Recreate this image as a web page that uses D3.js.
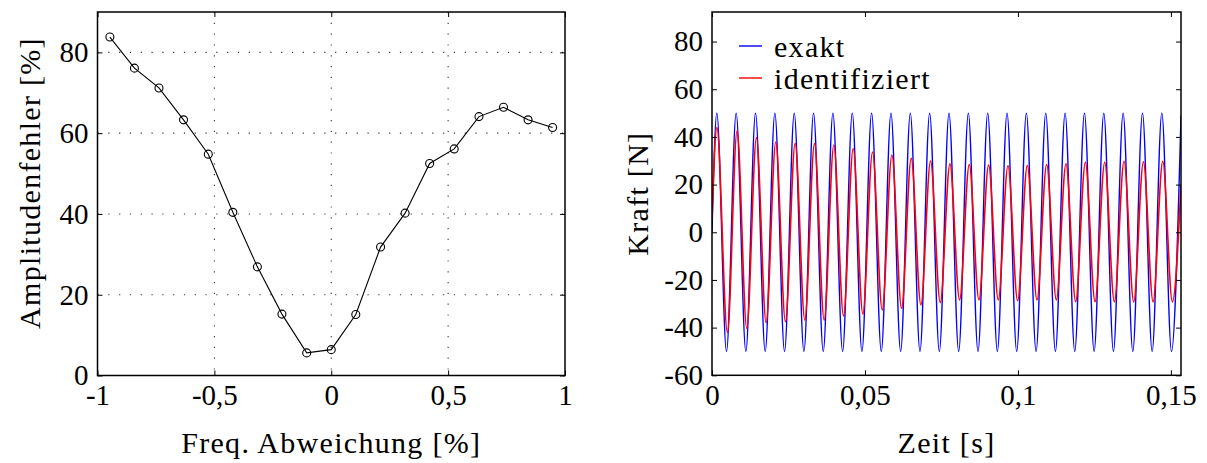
<!DOCTYPE html>
<html>
<head>
<meta charset="utf-8">
<script src="https://cdn.jsdelivr.net/npm/d3@7"></script>
<style>
  body { margin: 0; background: #fff; }
  svg text { font-family: 'Liberation Serif', 'DejaVu Serif', 'Times New Roman', Times, serif; fill: #000; }
</style>
</head>
<body>
<div id="grafica"></div>
<script>
// ---- datos: grafica izquierda (Amplitudenfehler) ----
const abweichung = [-0.947, -0.842, -0.737, -0.632, -0.526, -0.421, -0.316, -0.211, -0.105, 0,
                    0.105, 0.211, 0.316, 0.421, 0.526, 0.632, 0.737, 0.842, 0.947]
const fehler = [83.8, 76.1, 71.2, 63.3, 54.8, 40.4, 26.9, 15.2, 5.6, 6.4,
                15.1, 31.8, 40.2, 52.5, 56.1, 64.1, 66.4, 63.3, 61.4]
const xTicksIzq = [-1, -0.5, 0, 0.5, 1]
const yTicksIzq = [0, 20, 40, 60, 80]

// ---- datos: grafica derecha (Kraft), extremos ----
const exaktT = [0, 0.00158, 0.00474, 0.00790, 0.01107, 0.01423, 0.01739, 0.02055, 0.02371, 0.02688, 0.03004,
                0.03320, 0.03636, 0.03952, 0.04269, 0.04585, 0.04901, 0.05217, 0.05533, 0.05850, 0.06166,
                0.06482, 0.06798, 0.07114, 0.07431, 0.07747, 0.08063, 0.08379, 0.08695, 0.09012, 0.09328,
                0.09644, 0.09960, 0.10276, 0.10593, 0.10909, 0.11225, 0.11541, 0.11857, 0.12174, 0.12490,
                0.12806, 0.13122, 0.13438, 0.13755, 0.14071, 0.14387, 0.14703, 0.15019, 0.1533]
const exaktF = [0, 50, -50, 50, -50, 50, -50, 50, -50, 50, -50,
                50, -50, 50, -50, 50, -50, 50, -50, 50, -50,
                50, -50, 50, -50, 50, -50, 50, -50, 50, -50,
                50, -50, 50, -50, 50, -50, 50, -50, 50, -50,
                50, -50, 50, -50, 50, -50, 50, -50, 49]
const identT = [0, 0.00160, 0.00504, 0.00820, 0.01137, 0.01453, 0.01769, 0.02085, 0.02401, 0.02718, 0.03034,
                0.03350, 0.03666, 0.03982, 0.04299, 0.04615, 0.04931, 0.05247, 0.05563, 0.05880, 0.06196,
                0.06512, 0.06828, 0.07144, 0.07461, 0.07777, 0.08093, 0.08409, 0.08725, 0.09042, 0.09358,
                0.09674, 0.09990, 0.10306, 0.10623, 0.10939, 0.11255, 0.11571, 0.11887, 0.12204, 0.12520,
                0.12836, 0.13152, 0.13468, 0.13785, 0.14101, 0.14417, 0.14733, 0.15049, 0.1533]
const identF = [5.8, 43.9, -42.0, 42.6, -40.3, 39.7, -37.9, 37.8, -37.5, 37.3, -36.8,
                37.2, -36.8, 36.6, -35.1, 35.1, -34.3, 33.7, -32.6, 32.4, -31.9,
                31.0, -30.5, 29.9, -29.5, 28.7, -28.4, 28.4, -28.4, 28.2, -28.4,
                27.9, -28.7, 28.0, -28.4, 28.4, -28.4, 28.7, -29.1, 29.4, -29.1,
                29.4, -29.2, 29.8, -29.2, 29.6, -29.2, 29.8, -29.2, 19.8]
const xTicksDer = [0, 0.05, 0.1, 0.15]
const yTicksDer = [-60, -40, -20, 0, 20, 40, 60, 80]
const leyenda = ['exakt', 'identifiziert']
const colores = ['#0000ff', '#ff0000']

const ancho_total = 1207
const alto_total = 463
const fontSize = 29      // numeros de los ejes
const fontTitulo = 30    // titulos y leyenda
const espaciado = '1.3px'
const fuente = "'Liberation Serif', 'DejaVu Serif', 'Times New Roman', Times, serif"

const coma = (d) => String(d).replace('.', ',')

svg = d3.select('#grafica')
        .append('svg')
        .attr('width', ancho_total)
        .attr('height', alto_total)
        .attr('font-family', fuente)

// marco de cada grafica
izq = { left: 97.5, right: 565, top: 12, bottom: 375.5 }
der = { left: 712, right: 1181, top: 12, bottom: 375.3 }

function ejes(g, x, y, xTicks, yTicks, m) {
  const w = m.right - m.left
  const h = m.bottom - m.top
  g.append('g')
    .attr('transform', `translate(0, ${h})`)
    .call(d3.axisBottom(x).tickValues(xTicks).tickFormat(coma).tickSizeInner(-5).tickSizeOuter(0).tickPadding(9))
  g.append('g')
    .call(d3.axisLeft(y).tickValues(yTicks).tickFormat(coma).tickSizeInner(-5).tickSizeOuter(0).tickPadding(9))
  g.append('g')
    .call(d3.axisTop(x).tickValues(xTicks).tickFormat('').tickSizeInner(-5).tickSizeOuter(0))
  g.append('g')
    .attr('transform', `translate(${w}, 0)`)
    .call(d3.axisRight(y).tickValues(yTicks).tickFormat('').tickSizeInner(-5).tickSizeOuter(0))
  g.selectAll('.domain').remove()
  g.selectAll('g').attr('font-family', fuente)
  g.selectAll('.tick line').attr('stroke', '#000').attr('stroke-width', 1)
  g.selectAll('.tick text')
    .attr('font-size', fontSize + 'px')
    .attr('fill', '#000')
  g.append('rect')
    .attr('width', w)
    .attr('height', h)
    .attr('fill', 'none')
    .attr('stroke', '#000')
    .attr('stroke-width', 1.5)
}

function titulo(x, y, rot, txt) {
  svg.append('text')
    .attr('transform', `translate(${x}, ${y}) rotate(${rot})`)
    .attr('text-anchor', 'middle')
    .attr('font-size', fontTitulo + 'px')
    .attr('letter-spacing', espaciado)
    .text(txt)
}

// ---------------- grafica izquierda ----------------
gI = svg.append('g').attr('transform', `translate(${izq.left}, ${izq.top})`)
anchoI = izq.right - izq.left
altoI = izq.bottom - izq.top

xI = d3.scaleLinear().domain([-1, 1]).range([0, anchoI])
yI = d3.scaleLinear().domain([0, 90]).range([altoI, 0])

// rejilla punteada
gI.selectAll('.gridx')
  .data(xTicksIzq.slice(1, -1))
  .enter()
  .append('line')
  .attr('x1', (d) => xI(d)).attr('x2', (d) => xI(d))
  .attr('y1', 0).attr('y2', altoI)
  .attr('stroke', '#333').attr('stroke-width', 1.1)
  .attr('stroke-dasharray', '1.2 9.6')
gI.selectAll('.gridy')
  .data(yTicksIzq.slice(1))
  .enter()
  .append('line')
  .attr('x1', 0).attr('x2', anchoI)
  .attr('y1', (d) => yI(d)).attr('y2', (d) => yI(d))
  .attr('stroke', '#333').attr('stroke-width', 1.1)
  .attr('stroke-dasharray', '1.2 9.6')

ejes(gI, xI, yI, xTicksIzq, yTicksIzq, izq)

puntos = abweichung.map((a, i) => ({ a: a, f: fehler[i] }))

gI.append('path')
  .datum(puntos)
  .attr('fill', 'none')
  .attr('stroke', '#000')
  .attr('stroke-width', 1.1)
  .attr('d', d3.line().x((d) => xI(d.a)).y((d) => yI(d.f)))

gI.selectAll('circle')
  .data(puntos)
  .enter()
  .append('circle')
  .attr('cx', (d) => xI(d.a))
  .attr('cy', (d) => yI(d.f))
  .attr('r', 4)
  .attr('fill', 'none')
  .attr('stroke', '#000')
  .attr('stroke-width', 1.1)

titulo((izq.left + izq.right) / 2, 453, 0, 'Freq. Abweichung [%]')
titulo(40, 183, -90, 'Amplitudenfehler [%]')

// ---------------- grafica derecha ----------------
gD = svg.append('g').attr('transform', `translate(${der.left}, ${der.top})`)
anchoD = der.right - der.left
altoD = der.bottom - der.top

xD = d3.scaleLinear().domain([0, 0.1533]).range([0, anchoD])
yD = d3.scaleLinear().domain([-60, 92.4]).range([altoD, 0])

gD.append('clipPath')
  .attr('id', 'recorte')
  .append('rect')
  .attr('width', anchoD)
  .attr('height', altoD)

linea = d3.line()
          .x((d) => xD(d[0]))
          .y((d) => yD(d[1]))
          .curve(d3.curveMonotoneX)

series = [
  d3.zip(exaktT, exaktF),
  d3.zip(identT, identF)
]

series.forEach((s, i) => {
  gD.append('path')
    .datum(s)
    .attr('clip-path', 'url(#recorte)')
    .attr('fill', 'none')
    .attr('stroke', colores[i])
    .attr('stroke-width', i == 0 ? 1.4 : 1.6)
    .attr('d', linea)
})

ejes(gD, xD, yD, xTicksDer, yTicksDer, der)

leyenda.forEach((c, i) => {
  ren = gD.append('g')
          .attr('transform', `translate(0, ${34 + i * 32})`)
  ren.append('line')
    .attr('x1', 27).attr('x2', 50)
    .attr('y1', 0).attr('y2', 0)
    .attr('stroke', colores[i])
    .attr('stroke-width', 1.4)
  ren.append('text')
    .attr('x', 62)
    .attr('y', 10.5)
    .attr('font-size', fontTitulo + 'px')
    .attr('letter-spacing', espaciado)
    .text(c)
})

titulo((der.left + der.right) / 2, 453, 0, 'Zeit [s]')
titulo(648, (der.top + der.bottom) / 2, -90, 'Kraft [N]')
</script>
</body>
</html>
